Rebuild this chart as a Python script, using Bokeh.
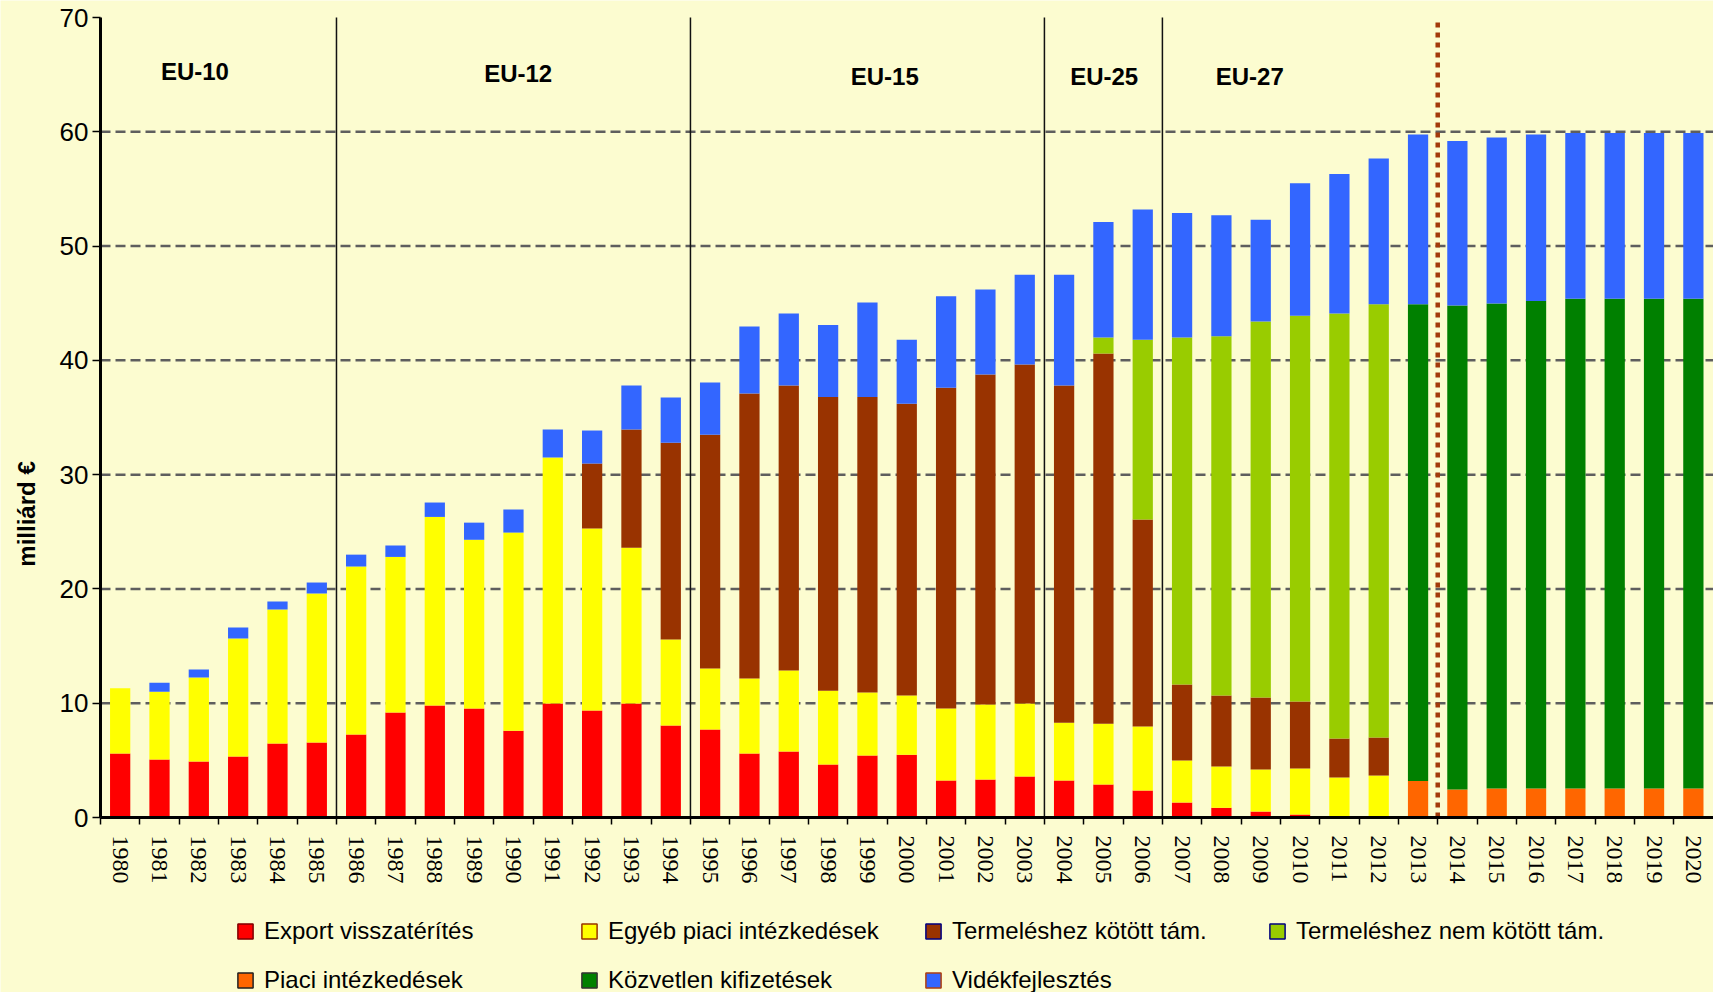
import math
from bokeh.plotting import figure
from bokeh.models import (ColumnDataSource, Range1d, FixedTicker, Label,
                          Legend, LegendItem)
from bokeh.core.properties import value
from bokeh.embed import file_html
from bokeh.resources import INLINE

# ---------------- data ----------------
years = list(range(1980, 2021))

export_refund = [5.6, 5.07, 4.9, 5.34, 6.47, 6.56, 7.26, 9.19, 9.8, 9.54, 7.6, 9.97,
                 9.36, 9.97, 8.05, 7.7, 5.6, 5.77, 4.64, 5.42, 5.5, 3.24, 3.32, 3.59,
                 3.24, 2.89, 2.36, 1.31, 0.85, 0.52, 0.26, 0.08, 0.05,
                 0, 0, 0, 0, 0, 0, 0, 0]
other_market = [5.7, 5.93, 7.35, 10.32, 11.73, 13.04, 14.7, 13.61, 16.5, 14.76, 17.33, 21.53,
                15.92, 13.63, 7.52, 5.34, 6.56, 7.09, 6.46, 5.52, 5.17, 6.3, 6.57, 6.38,
                5.06, 5.31, 5.6, 3.68, 3.61, 3.68, 4.03, 3.42, 3.62,
                0, 0, 0, 0, 0, 0, 0, 0]
coupled = [0, 0, 0, 0, 0, 0, 0, 0, 0, 0, 0, 0,
           5.69, 10.35, 17.23, 20.46, 24.94, 24.94, 25.7, 25.86, 25.53, 28.06, 28.87, 29.66,
           29.5, 32.4, 18.11, 6.65, 6.21, 6.3, 5.86, 3.41, 3.33,
           0, 0, 0, 0, 0, 0, 0, 0]
decoupled = [0] * 25 + [1.4, 15.73, 30.36, 31.43, 32.9, 33.75, 37.19, 37.9] + [0] * 8
market_measures = [0] * 33 + [3.2, 2.45, 2.54, 2.54, 2.54, 2.54, 2.54, 2.54]
direct_payments = [0] * 33 + [41.7, 42.35, 42.43, 42.66, 42.86, 42.86, 42.86, 42.86]
rural_dev = [0, 0.8, 0.7, 0.96, 0.7, 0.96, 1.04, 1.0, 1.26, 1.5, 2.02, 2.45,
             2.89, 3.85, 3.95, 4.56, 5.86, 6.3, 6.3, 8.26, 5.6, 8.0, 7.44, 7.87,
             9.7, 10.1, 11.4, 10.9, 10.6, 8.9, 11.6, 12.2, 12.76,
             14.86, 14.4, 14.53, 14.56, 14.5, 14.5, 14.5, 14.5]

series_keys = ["export_refund", "other_market", "coupled", "decoupled",
               "market_measures", "direct_payments", "rural_dev"]
series_labels = ["Export visszatérítés", "Egyéb piaci intézkedések",
                 "Termeléshez kötött tám.", "Termeléshez nem kötött tám.",
                 "Piaci intézkedések", "Közvetlen kifizetések", "Vidékfejlesztés"]
series_colors = ["#FF0000", "#FFFF00", "#993300", "#99CC00", "#FF6600", "#008000", "#3366FF"]
legend_borders = ["#800000", "#993300", "#000080", "#000080", "#222222", "#333333", "#B04010"]

era_names = ["EU-10", "EU-12", "EU-15", "EU-25", "EU-27"]
era_label_x = [1981.9, 1990.12, 1999.44, 2005.02, 2008.72]
era_label_y = [65.27, 65.14, 64.87, 64.87, 64.87]
era_bounds = [1985.5, 1994.5, 2003.5, 2006.5]
forecast_bound = [2013.5]

y_ticks = [0, 10, 20, 30, 40, 50, 60, 70]
grid_ticks = [10, 20, 30, 40, 50, 60]
y_min, y_max = 0, 70

BG = "#FCFCD0"
FONT = "Liberation Sans"

# ---------------- layout geometry (pixels) ----------------
W, H = 1713, 992
left_px, top_px, bottom_px = 100, 17, 817
px_per_year = 39.33
px_per_unit = (bottom_px - top_px) / (y_max - y_min)
x_first = years[0] - 0.5
x_last = years[-1] + 0.5
x_start = x_first - left_px / px_per_year
x_end = x_start + W / px_per_year
y_end = y_max + top_px / px_per_unit
y_start = y_end - H / px_per_unit

source = ColumnDataSource(dict(
    year=years,
    export_refund=export_refund,
    other_market=other_market,
    coupled=coupled,
    decoupled=decoupled,
    market_measures=market_measures,
    direct_payments=direct_payments,
    rural_dev=rural_dev,
))

p = figure(width=W, height=H, output_backend="svg", toolbar_location=None,
           x_range=Range1d(x_start, x_end), y_range=Range1d(y_start, y_end),
           min_border_left=0, min_border_right=0, min_border_top=0,
           min_border_bottom=0)
p.background_fill_color = BG
p.border_fill_color = BG
p.outline_line_color = None
p.xgrid.visible = False
p.ygrid.visible = False

# dashed horizontal grid lines (drawn from the grid tick list, behind the bars)
p.segment(x0=[x_first] * len(grid_ticks), x1=[x_end] * len(grid_ticks),
          y0=grid_ticks, y1=grid_ticks, line_color="#5E5E5E", line_width=2.5,
          line_dash="10 5")

p.vbar_stack(series_keys, x="year", width=0.515, fill_color=series_colors,
             line_color=None, source=source)

# era separators
p.segment(x0=era_bounds, x1=era_bounds, y0=[y_min] * len(era_bounds),
          y1=[y_max] * len(era_bounds), line_color="#111111", line_width=1.5)
p.segment(x0=forecast_bound, x1=forecast_bound, y0=[y_min], y1=[69.7],
          line_color="#A33A0A", line_width=4.5, line_dash="5 5")

# y axis (fixed at the first category boundary)
yax = p.yaxis[0]
yax.fixed_location = x_first
yax.bounds = (y_min, y_max)
yax.ticker = FixedTicker(ticks=y_ticks)
yax.axis_line_width = 3
yax.axis_line_color = "black"
yax.major_tick_out = 8
yax.major_tick_in = 0
yax.major_tick_line_width = 1.5
yax.minor_tick_line_color = None
yax.major_label_standoff = 4
yax.major_label_text_font = FONT
yax.major_label_text_font_size = "26px"
yax.major_label_text_color = "black"

# x axis (fixed at y = 0)
xax = p.xaxis[0]
xax.fixed_location = y_min
xax.bounds = (x_first, x_last)
xax.ticker = FixedTicker(ticks=years, minor_ticks=[y - 0.5 for y in years])
xax.axis_line_width = 3
xax.axis_line_color = "black"
xax.major_tick_line_color = None
xax.major_tick_out = 0
xax.major_tick_in = 0
xax.minor_tick_out = 7
xax.minor_tick_in = 0
xax.minor_tick_line_width = 1.5
xax.minor_tick_line_color = "black"
xax.major_label_orientation = "vertical"
xax.major_label_standoff = 11
xax.major_label_text_font = "Liberation Sans Narrow"
xax.major_label_text_font_size = "24px"
xax.major_label_text_color = "black"

# era labels
p.text(x=era_label_x, y=era_label_y, text=era_names, text_font=value(FONT),
       text_font_size="24px", text_font_style="bold", text_align="center",
       text_baseline="middle", text_color="black")

# y axis title
p.add_layout(Label(x=x_first - 74.3 / px_per_year, y=26.56, text="milliárd €",
                   angle=math.pi / 2, text_align="center", text_baseline="middle",
                   text_font=FONT, text_font_size="24px", text_font_style="bold",
                   text_color="black"))

# legend: hidden marker renderers (same data) give bordered square swatches
items = []
for key, lab, fc, lc in zip(series_keys, series_labels, series_colors, legend_borders):
    r = p.scatter(x="year", y=key, source=source, marker="square", size=16,
                  fill_color=fc, line_color=lc, line_width=1.5, visible=False)
    items.append(LegendItem(label=lab, renderers=[r]))

legend = Legend(items=items, location=(226, -8), orientation="horizontal", ncols=4,
                glyph_width=38, glyph_height=40, label_standoff=0, label_width=297,
                label_height=40, spacing=9, padding=0, margin=0,
                border_line_color=None, background_fill_alpha=0,
                inactive_fill_alpha=0, click_policy="none",
                label_text_font=FONT, label_text_font_size="24px",
                label_text_color="black")
p.add_layout(legend)

open("out.html", "w").write(file_html(p, INLINE))
